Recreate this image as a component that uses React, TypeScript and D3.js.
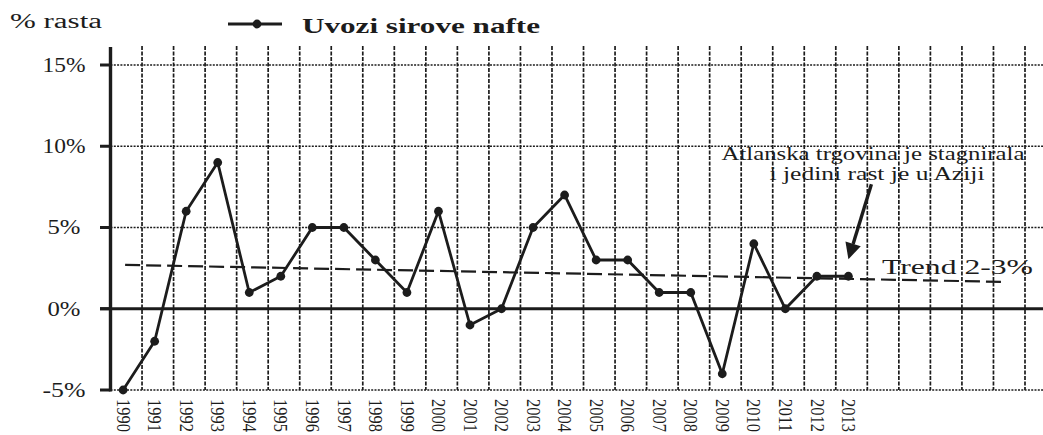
import React from "react";
import * as d3 from "d3";

// godine i rast uvoza sirove nafte (%)
const years = [
  1990, 1991, 1992, 1993, 1994, 1995, 1996, 1997, 1998, 1999, 2000, 2001,
  2002, 2003, 2004, 2005, 2006, 2007, 2008, 2009, 2010, 2011, 2012, 2013,
];
const growth = [
  -5, -2, 6, 9, 1, 2, 5, 5, 3, 1, 6, -1, 0, 5, 7, 3, 3, 1, 1, -4, 4, 0, 2, 2,
];
const yTicks = [-5, 0, 5, 10, 15];
const trendYears = [1990, 2018];
const trendValues = [2.7, 1.65];
const annotationLines = ["Atlanska trgovina je stagnirala", "i jedini rast je u Aziji"];
const trendLabel = "Trend 2-3%";
const legendLabel = "Uvozi sirove nafte";
const yTitle = "% rasta";

const W = 1043;
const H = 435;
const slots = 29; // stupci mreže (i prazni nakon 2013.)
const ink = "#1c1c1c";
const serif = "Liberation Serif, Times New Roman, DejaVu Serif, serif";

export default function App() {
  const x = d3.scaleLinear().domain([0, slots]).range([110.5, 1025]);
  const y = d3.scaleLinear().domain([-5, 15]).range([390, 65]);
  const px = (yr: number) => x(yr - years[0] + 0.4);

  const line = d3
    .line<number>()
    .x((_, i) => px(years[i]))
    .y((d) => y(d));

  const gridX = d3.range(1, slots + 1).map((k) => x(k));
  const last = years.length - 1;
  const lx = px(years[last]);
  const ly = y(growth[last]);
  const tip = [lx, ly - 17];
  const tail = [lx + 23, ly - 92];
  const ang = Math.atan2(tip[1] - tail[1], tip[0] - tail[0]);
  const hl = 16;
  const hw = 8;
  const base = [tip[0] - hl * Math.cos(ang), tip[1] - hl * Math.sin(ang)];
  const head = [
    tip,
    [base[0] + hw * Math.sin(ang), base[1] - hw * Math.cos(ang)],
    [base[0] - hw * Math.sin(ang), base[1] + hw * Math.cos(ang)],
  ];
  const tf = { fontFamily: serif };

  return (
    <svg
      width={W}
      height={H}
      style={{ position: "absolute", left: 0, top: 0, background: "#fff", fontFamily: serif }}
    >
      {/* vertikalna mreža */}
      {gridX.map((gx, i) => (
        <line
          key={"gx" + i}
          x1={gx}
          x2={gx}
          y1={46}
          y2={y(-5)}
          stroke={ink}
          strokeWidth={1.7}
          strokeDasharray="4,1.5"
        />
      ))}
      {/* horizontalna mreža */}
      {yTicks
        .filter((t) => t !== 0)
        .map((t) => (
          <line
            key={"gy" + t}
            x1={x(0)}
            x2={W}
            y1={y(t)}
            y2={y(t)}
            stroke={ink}
            strokeWidth={1.5}
            strokeDasharray="2,1.3"
          />
        ))}
      <line x1={100} x2={W} y1={y(0)} y2={y(0)} stroke={ink} strokeWidth={2.8} />
      {/* os y */}
      <line x1={x(0)} x2={x(0)} y1={47} y2={y(-5) + 1.5} stroke={ink} strokeWidth={3.4} />
      {yTicks.map((t) => (
        <g key={"yt" + t}>
          <line x1={100} x2={x(0)} y1={y(t)} y2={y(t)} stroke={ink} strokeWidth={3} />
          <text
            x={64}
            y={y(t)}
            dy="0.34em"
            textAnchor="middle"
            fontSize={20}
            fill={ink}
            style={tf}
            textLength={String(t).length * 10 + 23}
            lengthAdjust="spacingAndGlyphs"
          >
            {t + "%"}
          </text>
        </g>
      ))}
      {/* oznake godina */}
      {years.map((yr) => (
        <text
          key={"xl" + yr}
          transform={`translate(${px(yr)},${399}) rotate(90)`}
          dy="0.35em"
          fontSize={18}
          fill={ink}
          style={tf}
          textLength={33}
          lengthAdjust="spacingAndGlyphs"
        >
          {yr}
        </text>
      ))}
      {/* trend */}
      <line
        x1={px(trendYears[0]) + 2}
        x2={px(trendYears[1])}
        y1={y(trendValues[0])}
        y2={y(trendValues[1])}
        stroke={ink}
        strokeWidth={2.2}
        strokeDasharray="15,6"
      />
      {/* serija */}
      <path d={line(growth) ?? ""} fill="none" stroke={ink} strokeWidth={2.8} />
      {growth.map((v, i) => (
        <circle key={"pt" + i} cx={px(years[i])} cy={y(v)} r={4.4} fill={ink} />
      ))}
      {/* napomena */}
      <line
        x1={tail[0]}
        y1={tail[1]}
        x2={base[0]}
        y2={base[1]}
        stroke={ink}
        strokeWidth={3.4}
      />
      <polygon points={head.map((p) => p.join(",")).join(" ")} fill={ink} />
      <text x={873} y={160} textAnchor="middle" fontSize={18} fill={ink} style={tf} textLength={303} lengthAdjust="spacingAndGlyphs">
        {annotationLines[0]}
      </text>
      <text x={877} y={180} textAnchor="middle" fontSize={18} fill={ink} style={tf} textLength={215} lengthAdjust="spacingAndGlyphs">
        {annotationLines[1]}
      </text>
      <text x={882} y={274} fontSize={22} fill={ink} style={tf} textLength={151} lengthAdjust="spacingAndGlyphs">
        {trendLabel}
      </text>
      {/* naslov osi i legenda */}
      <text x={10} y={28} fontSize={20} fill={ink} style={tf} textLength={92} lengthAdjust="spacingAndGlyphs">
        {yTitle}
      </text>
      <line x1={228} x2={282} y1={24} y2={24} stroke={ink} strokeWidth={2.8} />
      <circle cx={257} cy={24} r={4.4} fill={ink} />
      <text
        x={302}
        y={33}
        fontSize={22}
        fontWeight="bold"
        fill={ink}
        style={tf}
        textLength={238}
        lengthAdjust="spacingAndGlyphs"
      >
        {legendLabel}
      </text>
    </svg>
  );
}
